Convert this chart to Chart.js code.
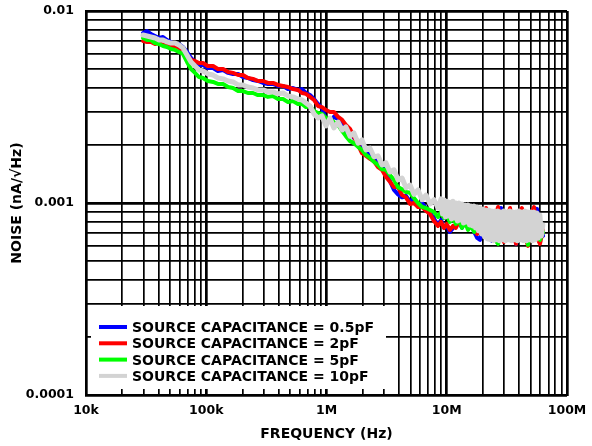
<!DOCTYPE html>
<html>
<head>
<meta charset="utf-8">
<script src="https://cdn.jsdelivr.net/npm/chart.js"></script>
<style>
  html, body { margin: 0; padding: 0; background: #fff; }
  canvas { display: block; }
</style>
</head>
<body>
<canvas id="noiseChart" width="592" height="446"></canvas>
<script>
// frequency sweep points (Hz), shared by all four curves
const freq = [
  29.8e3, 32.2e3, 34.7e3, 37.5e3, 40.5e3, 43.7e3, 47.2e3, 50.9e3, 55.0e3, 59.3e3,
  64.1e3, 69.2e3, 74.7e3, 80.6e3, 87.1e3, 94.0e3, 103e3, 114e3, 125e3, 138e3,
  152e3, 167e3, 184e3, 202e3, 222e3, 245e3, 269e3, 297e3, 326e3, 359e3,
  395e3, 435e3, 478e3, 527e3, 579e3, 626e3, 675e3, 729e3, 787e3, 850e3,
  917e3, 990e3, 1.07e6, 1.15e6, 1.25e6, 1.35e6, 1.45e6, 1.57e6, 1.69e6, 1.83e6,
  1.97e6, 2.13e6, 2.30e6, 2.48e6, 2.68e6, 2.89e6, 3.12e6, 3.37e6, 3.64e6, 3.93e6,
  4.25e6, 4.58e6, 4.95e6, 5.34e6, 5.77e6, 6.23e6, 6.72e6, 7.26e6, 7.83e6, 8.46e6,
  8.96e6, 9.49e6, 10.0e6, 10.6e6, 11.3e6, 11.9e6, 12.6e6, 13.4e6, 14.2e6, 15.0e6,
  15.9e6, 16.9e6, 17.9e6, 18.9e6, 20.0e6, 21.2e6, 22.5e6, 23.8e6, 25.2e6, 26.7e6,
  28.3e6, 29.9e6, 31.7e6, 33.6e6, 35.6e6, 37.7e6, 39.9e6, 42.2e6, 44.7e6, 47.4e6,
  50.2e6, 53.2e6, 56.3e6, 59.6e6, 63.2e6
];
// the 10pF trace is sampled finer above ~9 MHz (Hz)
const freqHiRes = [
  8.96e6, 9.22e6, 9.49e6, 9.77e6, 10.05e6, 10.34e6, 10.64e6, 10.95e6, 11.27e6, 11.60e6,
  11.94e6, 12.28e6, 12.64e6, 13.01e6, 13.39e6, 13.78e6, 14.18e6, 14.59e6, 15.02e6, 15.45e6,
  15.90e6, 16.37e6, 16.84e6, 17.33e6, 17.84e6, 18.35e6, 18.89e6, 19.44e6, 20.00e6, 20.59e6,
  21.18e6, 21.80e6, 22.44e6, 23.09e6, 23.76e6, 24.45e6, 25.16e6, 25.90e6, 26.65e6, 27.42e6,
  28.22e6, 29.04e6, 29.89e6, 30.76e6, 31.65e6, 32.57e6, 33.52e6, 34.50e6, 35.50e6, 36.53e6,
  37.60e6, 38.69e6, 39.82e6, 40.98e6, 42.17e6, 43.40e6, 44.66e6, 45.96e6, 47.30e6, 48.67e6,
  50.09e6, 51.55e6, 53.05e6, 54.59e6, 56.18e6, 57.81e6, 59.49e6, 61.23e6, 63.01e6
];

// noise readings in pA/rtHz (1 pA = 0.001 nA)
const cap05pF = [
  7.68, 7.87, 7.59, 7.41, 7.23, 7.32, 7.06, 6.90, 6.73, 6.73, 6.49, 6.12, 5.69, 5.43, 5.23, 5.23, 5.05, 5.05, 4.87, 4.93,
  4.76, 4.70, 4.70, 4.53, 4.48, 4.37, 4.32, 4.22, 4.17, 4.17, 4.07, 4.07, 3.92, 3.97, 3.88, 3.92, 3.74, 3.65, 3.48, 3.28,
  3.12, 2.71, 2.64, 2.81, 2.74, 2.58, 2.37, 2.32, 2.18, 2.10, 1.96, 1.89, 1.80, 1.74, 1.62, 1.56, 1.43, 1.30, 1.17, 1.11,
  1.07, 1.09, 1.02, 1.05, 0.988, 1.00, 0.942, 0.898, 0.826, 0.769,
  0.816, 0.742, 0.760, 0.707, 0.742, 0.769, 0.797, 0.742, 0.816, 0.760, 0.797, 0.707, 0.658, 0.643, 0.760, 0.836, 0.707,
  0.635, 0.797, 0.877, 0.942, 0.760, 0.674, 0.797, 0.742, 0.613, 0.707, 0.836, 0.760, 0.674, 0.816, 0.877, 0.931, 0.742, 0.674
];
const cap2pF = [
  6.98, 6.90, 6.90, 6.73, 6.81, 6.65, 6.65, 6.49, 6.57, 6.42, 6.34, 5.90, 5.56, 5.49, 5.36, 5.36, 5.17, 5.17, 4.99, 4.99,
  4.81, 4.76, 4.64, 4.64, 4.48, 4.43, 4.32, 4.32, 4.22, 4.22, 4.12, 4.07, 4.02, 3.92, 3.88, 3.74, 3.70, 3.57, 3.44, 3.20,
  3.16, 3.05, 2.98, 2.98, 2.81, 2.71, 2.55, 2.43, 2.21, 2.01, 1.82, 1.76, 1.70, 1.65, 1.54, 1.49, 1.37, 1.29, 1.21, 1.21,
  1.10, 1.07, 0.988, 1.00, 0.953, 0.953, 0.909, 0.877, 0.806, 0.760,
  0.797, 0.742, 0.778, 0.724, 0.760, 0.742, 0.797, 0.760, 0.836, 0.769, 0.816, 0.724, 0.690, 0.742, 0.816, 0.942, 0.769,
  0.674, 0.836, 0.953, 0.724, 0.627, 0.816, 0.942, 0.707, 0.613, 0.866, 0.942, 0.674, 0.598, 0.877, 0.953, 0.658, 0.613, 0.724
];
const cap5pF = [
  7.23, 7.06, 7.06, 6.81, 6.73, 6.57, 6.49, 6.34, 6.27, 6.12, 5.97, 5.43, 4.99, 4.76, 4.53, 4.48, 4.32, 4.27, 4.17, 4.17,
  4.02, 3.97, 3.83, 3.83, 3.74, 3.74, 3.65, 3.65, 3.57, 3.61, 3.48, 3.48, 3.36, 3.40, 3.28, 3.28, 3.16, 3.20, 3.01, 2.94,
  2.91, 2.77, 2.74, 2.64, 2.55, 2.37, 2.23, 2.10, 2.05, 1.96, 1.89, 1.78, 1.72, 1.64, 1.58, 1.50, 1.49, 1.40, 1.32, 1.21,
  1.18, 1.14, 1.13, 1.06, 1.00, 0.953, 0.942, 0.920, 0.898, 0.846,
  0.898, 0.836, 0.866, 0.797, 0.836, 0.778, 0.816, 0.742, 0.797, 0.724, 0.760, 0.707, 0.797, 0.898, 0.760, 0.707, 0.778,
  0.674, 0.643, 0.613, 0.674, 0.797, 0.898, 0.760, 0.674, 0.724, 0.797, 0.658, 0.724, 0.605, 0.898, 0.797, 0.674, 0.643, 0.707
];
// first 70 values on freq[], the rest on freqHiRes[]
const cap10pF = [
  7.50, 7.41, 7.32, 7.23, 7.06, 7.06, 6.90, 6.81, 6.81, 6.65, 6.42, 5.90, 5.43, 5.17, 4.93, 4.87, 4.70, 4.64, 4.48, 4.43,
  4.32, 4.27, 4.12, 4.12, 4.02, 3.97, 3.88, 3.88, 3.79, 3.79, 3.70, 3.74, 3.61, 3.57, 3.48, 3.44, 3.32, 3.20, 2.91, 2.77,
  2.84, 2.52, 2.77, 2.46, 2.64, 2.40, 2.49, 2.23, 2.32, 2.05, 2.13, 1.89, 1.93, 1.74, 1.76, 1.58, 1.62, 1.45, 1.49, 1.32,
  1.35, 1.20, 1.24, 1.11, 1.17, 1.04, 1.10, 0.988, 1.04, 0.942,
  1.05, 0.877, 1.04, 0.846, 1.02, 0.856, 1.01, 0.826, 1.02, 0.836, 1.00, 0.806, 1.00, 0.816, 0.988, 0.787, 0.976, 0.797,
  0.976, 0.769, 0.965, 0.760, 0.965, 0.742, 0.953, 0.716, 0.942, 0.690, 0.931, 0.666, 0.920, 0.650, 0.920, 0.643, 0.909,
  0.635, 0.909, 0.643, 0.909, 0.635, 0.898, 0.643, 0.909, 0.635, 0.898, 0.643, 0.909, 0.635, 0.898, 0.643, 0.898, 0.635,
  0.909, 0.643, 0.898, 0.635, 0.909, 0.635, 0.898, 0.643, 0.898, 0.635, 0.898, 0.643, 0.887, 0.658, 0.866, 0.674, 0.769
];

const seriesLabels = [
  'SOURCE CAPACITANCE = 0.5pF',
  'SOURCE CAPACITANCE = 2pF',
  'SOURCE CAPACITANCE = 5pF',
  'SOURCE CAPACITANCE = 10pF'
];
const seriesColors = ['#0000ff', '#ff0000', '#00ff00', '#d3d3d3'];

const xDecades = [1e4, 1e5, 1e6, 1e7, 1e8];
const xTickLabels = ['10k', '100k', '1M', '10M', '100M'];
const yDecades = [1e-4, 1e-3, 1e-2];
const yTickLabels = ['0.0001', '0.001', '0.01'];
const gridSteps = [1, 2, 3, 4, 5, 6, 7, 8, 9];

function logGrid(decades) {
  const out = [];
  decades.slice(0, -1).forEach(d => gridSteps.forEach(m => out.push(m * d)));
  out.push(decades[decades.length - 1]);
  return out;
}
const xGrid = logGrid(xDecades);
const yGrid = logGrid(yDecades);

const xFor10pF = freq.slice(0, 70).concat(freqHiRes);
const allSeries = [
  { vals: cap05pF, xs: freq },
  { vals: cap2pF, xs: freq },
  { vals: cap5pF, xs: freq },
  { vals: cap10pF, xs: xFor10pF }
];
const datasets = allSeries.map((s, i) => ({
  label: seriesLabels[i],
  data: s.vals.map((v, j) => ({ x: s.xs[j], y: v / 1000 })),
  borderColor: seriesColors[i],
  backgroundColor: seriesColors[i],
  borderWidth: i === 3 ? 5 : 4,
  pointRadius: 0,
  tension: 0,
  borderJoinStyle: 'round',
  borderCapStyle: 'round',
  order: 4 - i   // 10pF (grey) drawn on top
}));

// legend box sitting inside the plot, over the grid
const boxLegend = {
  id: 'boxLegend',
  beforeDatasetsDraw(chart) {
    const ctx = chart.ctx;
    ctx.save();
    ctx.fillStyle = '#fff';
    ctx.fillRect(91, 306, 295, 83);
    ctx.font = 'bold 14px "DejaVu Sans"';
    ctx.textBaseline = 'alphabetic';
    chart.data.datasets.forEach((ds, i) => {
      const y = 327 + i * 16.3;
      ctx.strokeStyle = ds.borderColor;
      ctx.lineWidth = 4;
      ctx.beginPath();
      ctx.moveTo(99, y);
      ctx.lineTo(127, y);
      ctx.stroke();
      ctx.fillStyle = '#000';
      ctx.fillText(ds.label, 132, y + 5);
    });
    ctx.restore();
  }
};

const gridWidth = decades => c => (decades.includes(c.tick && c.tick.value) ? 2.7 : 1.7);

Chart.defaults.font.family = '"DejaVu Sans", sans-serif';
Chart.defaults.font.weight = 'bold';
Chart.defaults.color = '#000';

new Chart(document.getElementById('noiseChart'), {
  type: 'line',
  data: { datasets },
  options: {
    responsive: false,
    animation: false,
    devicePixelRatio: 1,
    layout: { padding: { top: 11, right: 25, left: 0, bottom: 0 } },
    plugins: { legend: { display: false }, tooltip: { enabled: false } },
    scales: {
      x: {
        type: 'logarithmic',
        min: 1e4,
        max: 1e8,
        afterFit: s => { s.height = 51; s.paddingLeft = 0; s.paddingRight = 0; },
        afterBuildTicks: s => { s.ticks = xGrid.map(v => ({ value: v })); },
        grid: { color: '#000', lineWidth: gridWidth(xDecades), drawTicks: false },
        border: { display: true, color: '#000', width: 2 },
        ticks: {
          autoSkip: false,
          maxRotation: 0,
          padding: 8,
          font: { size: 12.5, weight: 'bold' },
          callback: v => { const k = xDecades.indexOf(v); return k >= 0 ? xTickLabels[k] : ''; }
        },
        title: {
          display: true,
          text: 'FREQUENCY (Hz)',
          font: { size: 14, weight: 'bold' },
          padding: { top: 0, bottom: 3 }
        }
      },
      y: {
        type: 'logarithmic',
        min: 1e-4,
        max: 1e-2,
        afterFit: s => { s.width = 86; s.paddingTop = 0; s.paddingBottom = 0; },
        afterBuildTicks: s => { s.ticks = yGrid.map(v => ({ value: v })); },
        grid: { color: '#000', lineWidth: gridWidth(yDecades), drawTicks: false },
        border: { display: true, color: '#000', width: 2 },
        ticks: {
          autoSkip: false,
          padding: 12,
          font: { size: 12.5, weight: 'bold' },
          callback: v => { const k = yDecades.indexOf(v); return k >= 0 ? yTickLabels[k] : ''; }
        },
        title: {
          display: true,
          text: 'NOISE (nA/√Hz)',
          font: { size: 14, weight: 'bold' },
          padding: { top: 9, bottom: 0 }
        }
      }
    }
  },
  plugins: [boxLegend]
});
</script>
</body>
</html>
